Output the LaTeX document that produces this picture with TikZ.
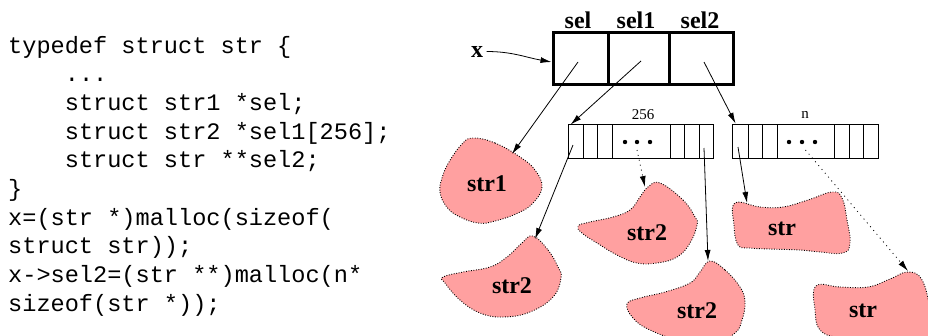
\documentclass[tikz,border=0pt]{standalone}
\usepackage{fontspec}
\setmainfont{Liberation Serif}
\setmonofont{Liberation Mono}
\usetikzlibrary{arrows.meta}
\definecolor{blobc}{RGB}{255,160,160}

\begin{document}
\begin{tikzpicture}[x=1pt, y=-1pt,
    cell/.style={draw=black, line width=3pt, minimum height=52pt, inner sep=0pt},
    slot/.style={draw=black, line width=0.8pt, minimum height=34pt, inner sep=0pt},
    blob/.style={fill=blobc, draw=black, line width=0.9pt, dash pattern=on 0.9pt off 1.6pt},
    ptr/.style={-{Latex[length=11pt, width=6pt]}, line width=0.8pt},
    dptr/.style={ptr, dash pattern=on 1pt off 4pt},
    lab/.style={font=\bfseries\fontsize{24}{26}\selectfont},
    num/.style={font=\fontsize{15}{17}\selectfont},
    src/.style={font=\ttfamily\fontsize{23.6}{28}\selectfont, anchor=base west, inner sep=0pt},
  ]
  \useasboundingbox (0,0) rectangle (928,335);
  \clip (0,0) rectangle (928,335);

  %% ================= the C source on the left =================
  \foreach \ind/\ln [count=\k] in {
      0/{typedef struct str \{},
      4/{...},
      4/{struct str1 *sel;},
      4/{struct str2 *sel1[256];},
      4/{struct str **sel2;},
      0/{\}},
      0/{x=(str *)malloc(sizeof(},
      0/{struct str));},
      0/{x->sel2=(str **)malloc(n*},
      0/{sizeof(str *));}} {
    \node[src] (code\k) at ({8+\ind*14.16}, {53+(\k-1)*28.7}) {\ln};
  }

  %% ================= the struct and its two arrays =================
  \node[cell, minimum width=55pt] (sel)  at (580.5,58) {};
  \node[cell, minimum width=61pt] (sel1) at (638.5,58) {};
  \node[cell, minimum width=64pt] (sel2) at (701,58)   {};
  \node[lab, anchor=base] (selt)  at (578,28) {sel};
  \node[lab, anchor=base] (sel1t) at (636,28) {sel1};
  \node[lab, anchor=base] (sel2t) at (700,28) {sel2};
  \node[lab, anchor=base] (xlab)  at (477,57) {x};

  \foreach \l/\r [count=\k] in {568/583,583/597,597/612,612/670,670/684,684/699,699/713} {
    \node[slot, minimum width={(\r-\l)*1pt}] (arrA\k) at ({(\l+\r)/2},141) {};
  }
  \foreach \l/\r [count=\k] in {732/748,748/762,762/777,777/834,834/849,849/863,863/878} {
    \node[slot, minimum width={(\r-\l)*1pt}] (arrB\k) at ({(\l+\r)/2},141) {};
  }
  \foreach \d in {625,637,650,789,802,815} { \fill (\d,142) circle (2.2pt); }
  \node[num, anchor=base] (lenA) at (643,119) {256};
  \node[num, anchor=base] (lenB) at (805,118) {n};

  %% ================= the pointed-to blobs =================
  \draw[blob] plot[smooth cycle, tension=0.7] coordinates {(473,138) (495,143) (520,157) (535,170)
    (542,187) (533,203) (518,213) (495,221) (478,223) (458,216) (446,206) (440,192) (442,178)
    (449,162) (462,144)};
  \draw[blob] plot[smooth cycle, tension=0.7] coordinates {(533,236) (548,250) (558,267) (561,278)
    (553,297) (530,312) (503,317) (480,313) (460,300) (445,283) (443,277) (463,272) (490,267)
    (507,257) (522,243)};
  \draw[blob] plot[smooth cycle, tension=0.7] coordinates {(660,183) (683,200) (695,217) (697,225)
    (690,243) (677,257) (657,263) (637,263) (617,255) (597,243) (582,233) (578,226) (590,222)
    (613,217) (630,210) (640,197) (648,187)};
  \draw[blob] plot[smooth cycle, tension=0.7] coordinates {(710,261) (725,270) (740,287) (745,302)
    (742,320) (735,333) (715,342) (680,340) (650,330) (633,318) (627,304) (640,298) (665,292)
    (690,283) (700,272)};
  \draw[blob] plot[smooth cycle, tension=0.7] coordinates {(735,203) (760,207) (783,207) (808,200)
    (832,192) (842,198) (847,220) (850,243) (843,253) (820,252) (800,250) (770,249) (750,248)
    (738,245) (734,225)};
  \draw[blob] plot[smooth cycle, tension=0.7] coordinates {(816,286) (840,287) (868,287) (890,279)
    (908,272) (922,280) (930,310) (932,340) (880,342) (840,338) (820,330) (815,310)};

  \node[lab] (str1)  at (487,184) {str1};
  \node[lab] (str2a) at (512,286) {str2};
  \node[lab] (str2b) at (647,233) {str2};
  \node[lab] (str2c) at (697,311) {str2};
  \node[lab] (strA)  at (782,229) {str};
  \node[lab] (strB)  at (863,311) {str};

  \coordinate (str1tip)  at (512,154);
  \coordinate (str2atip) at (535,239);
  \coordinate (str2btip) at (645,187);
  \coordinate (str2ctip) at (708,261);
  \coordinate (strAtip)  at (747,203);
  \coordinate (strBtip)  at (908,271);

  %% ================= pointers =================
  \draw[ptr] (xlab.east) to[out=0, in=170] ([yshift=-4pt]sel.west);
  \draw[ptr] ([shift={(-2.5pt,-4pt)}]sel.center) -- (str1tip);
  \draw[ptr] ([shift={(2.5pt,-3pt)}]sel1.center) -- ([shift={(3pt,-1pt)}]arrA1.north west);
  \draw[ptr] ([shift={(3pt,-4pt)}]sel2.center) -- ([xshift=4pt]arrB1.north west);
  \draw[ptr] ([shift={(-2.5pt,-4pt)}]arrA1.center) -- (str2atip);
  \draw[ptr] ([shift={(-2pt,-7pt)}]arrA7.center) -- (str2ctip);
  \draw[ptr] ([shift={(-2pt,-6pt)}]arrB1.center) -- (strAtip);
  \draw[dptr] ([shift={(-4pt,-9pt)}]arrA4.center) -- (str2btip);
  \draw[dptr] ([yshift=-9pt]arrB4.center) -- (strBtip);

\end{tikzpicture}
\end{document}
